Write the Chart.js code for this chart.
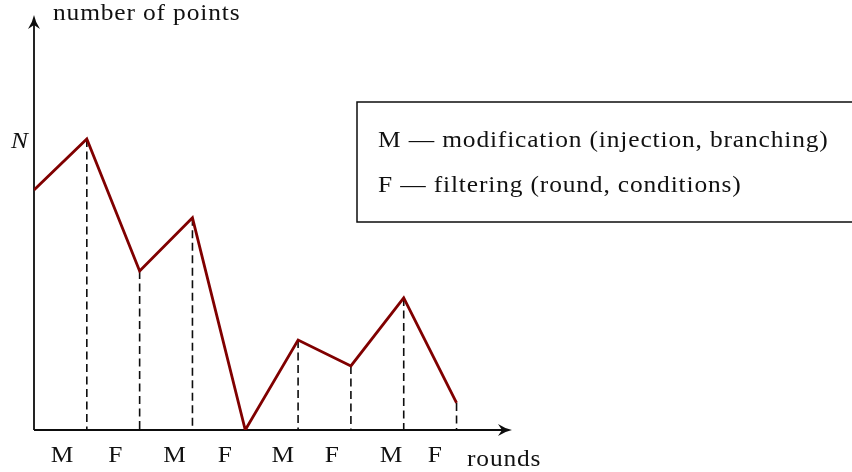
<!DOCTYPE html>
<html>
<head>
<meta charset="utf-8">
<script src="https://cdn.jsdelivr.net/npm/chart.js@4"></script>
<style>
  html, body { margin: 0; padding: 0; background: #fff; }
  #wrap { width: 852px; height: 472px; }
</style>
</head>
<body>
<div id="wrap"><canvas id="myChart" width="852" height="472"></canvas></div>
<script>
// rounds 0..8, number of points relative to N = 100
var rounds = [0, 1, 2, 3, 4, 5, 6, 7, 8];
var points = [82.5, 100, 54.6, 72.9, 0, 30.9, 22.0, 45.4, 9.3];
// step labels sit between consecutive rounds
var stepLabels = ["M", "F", "M", "F", "M", "F", "M", "F"];
var stepAt = [0.52, 1.53, 2.65, 3.6, 4.7, 5.63, 6.75, 7.58];
var legendLines = ["M \u2014 modification (injection, branching)", "F \u2014 filtering (round, conditions)"];
var yMax = 142.6;
var xMax = 9.05;

var FONT = "'Liberation Serif', 'DejaVu Serif', serif";
var INK = "#0d0d0d";

function arrowHead(c, x, y, dir) {
    // dir: "right" or "up"
    c.save();
    c.translate(x, y);
    if (dir === "up") c.rotate(-Math.PI / 2);
    c.beginPath();
    c.moveTo(0, 0);
    c.quadraticCurveTo(-7, -1.4, -14, -6);
    c.lineTo(-10, 0);
    c.lineTo(-14, 6);
    c.quadraticCurveTo(-7, 1.4, 0, 0);
    c.closePath();
    c.fillStyle = INK;
    c.fill();
    c.restore();
}

// serif text, a touch wider than Times
function text(c, str, x, y, align, style) {
    c.save();
    c.font = (style || "") + " 24px " + FONT;
    c.letterSpacing = style ? "0px" : "0.8px";
    c.textAlign = align || "left";
    c.textBaseline = "alphabetic";
    c.fillStyle = "#111";
    c.translate(x, y);
    c.scale(1.06, 1);
    c.fillText(str, 0, 0);
    c.restore();
}

var decor = {
    id: "decor",
    beforeDatasetsDraw: function(chart) {
        var c = chart.ctx;
        var xs = chart.scales.x, ys = chart.scales.y;
        var x0 = xs.getPixelForValue(0), y0 = ys.getPixelForValue(0);
        var meta = chart.getDatasetMeta(0);

        // dashed drop lines
        c.save();
        c.strokeStyle = INK;
        c.lineWidth = 1.6;
        c.setLineDash([8, 4.5]);
        for (var i = 1; i < meta.data.length; i++) {
            var p = meta.data[i];
            if (points[i] <= 0) continue;
            c.beginPath();
            c.moveTo(p.x, p.y);
            c.lineTo(p.x, y0);
            c.stroke();
        }
        c.restore();

        // axes
        var xEnd = xs.getPixelForValue(xMax);
        var yEnd = ys.getPixelForValue(yMax);
        c.save();
        c.strokeStyle = INK;
        c.lineWidth = 1.8;
        c.beginPath();
        c.moveTo(x0, y0);
        c.lineTo(xEnd - 5, y0);
        c.moveTo(x0, y0);
        c.lineTo(x0, yEnd + 5);
        c.stroke();
        c.restore();
        arrowHead(c, xEnd, y0, "right");
        arrowHead(c, x0, yEnd, "up");
    },
    afterDraw: function(chart) {
        var c = chart.ctx;
        var xs = chart.scales.x, ys = chart.scales.y;
        var x0 = xs.getPixelForValue(0), y0 = ys.getPixelForValue(0);

        // step labels under the axis
        for (var i = 0; i < stepLabels.length; i++) {
            text(c, stepLabels[i], xs.getPixelForValue(stepAt[i]) + 1, y0 + 32, "center");
        }
        text(c, "rounds", 467, y0 + 36);

        // axis title and N mark
        text(c, "number of points", 53, 20);
        text(c, "N", x0 - 6, ys.getPixelForValue(100) + 9, "right", "italic");

        // legend box
        c.save();
        c.strokeStyle = INK;
        c.lineWidth = 1.5;
        c.strokeRect(357, 102, 520, 120);
        c.restore();
        text(c, legendLines[0], 378, 147);
        text(c, legendLines[1], 378, 192);
    }
};

var ctx = document.getElementById("myChart").getContext("2d");
var myChart = new Chart(ctx, {
    type: "line",
    data: {
        labels: rounds,
        datasets: [{
            data: rounds.map(function(r, i) { return { x: r, y: points[i] }; }),
            borderColor: "#800000",
            borderWidth: 2.8,
            pointRadius: 0,
            tension: 0,
            fill: false
        }]
    },
    options: {
        responsive: false,
        animation: false,
        layout: { padding: { left: 34, right: 340, top: 15, bottom: 42 } },
        plugins: { legend: { display: false }, tooltip: { enabled: false } },
        scales: {
            x: { type: "linear", min: 0, max: xMax, display: false },
            y: { min: 0, max: yMax, display: false }
        }
    },
    plugins: [decor]
});
</script>
</body>
</html>
